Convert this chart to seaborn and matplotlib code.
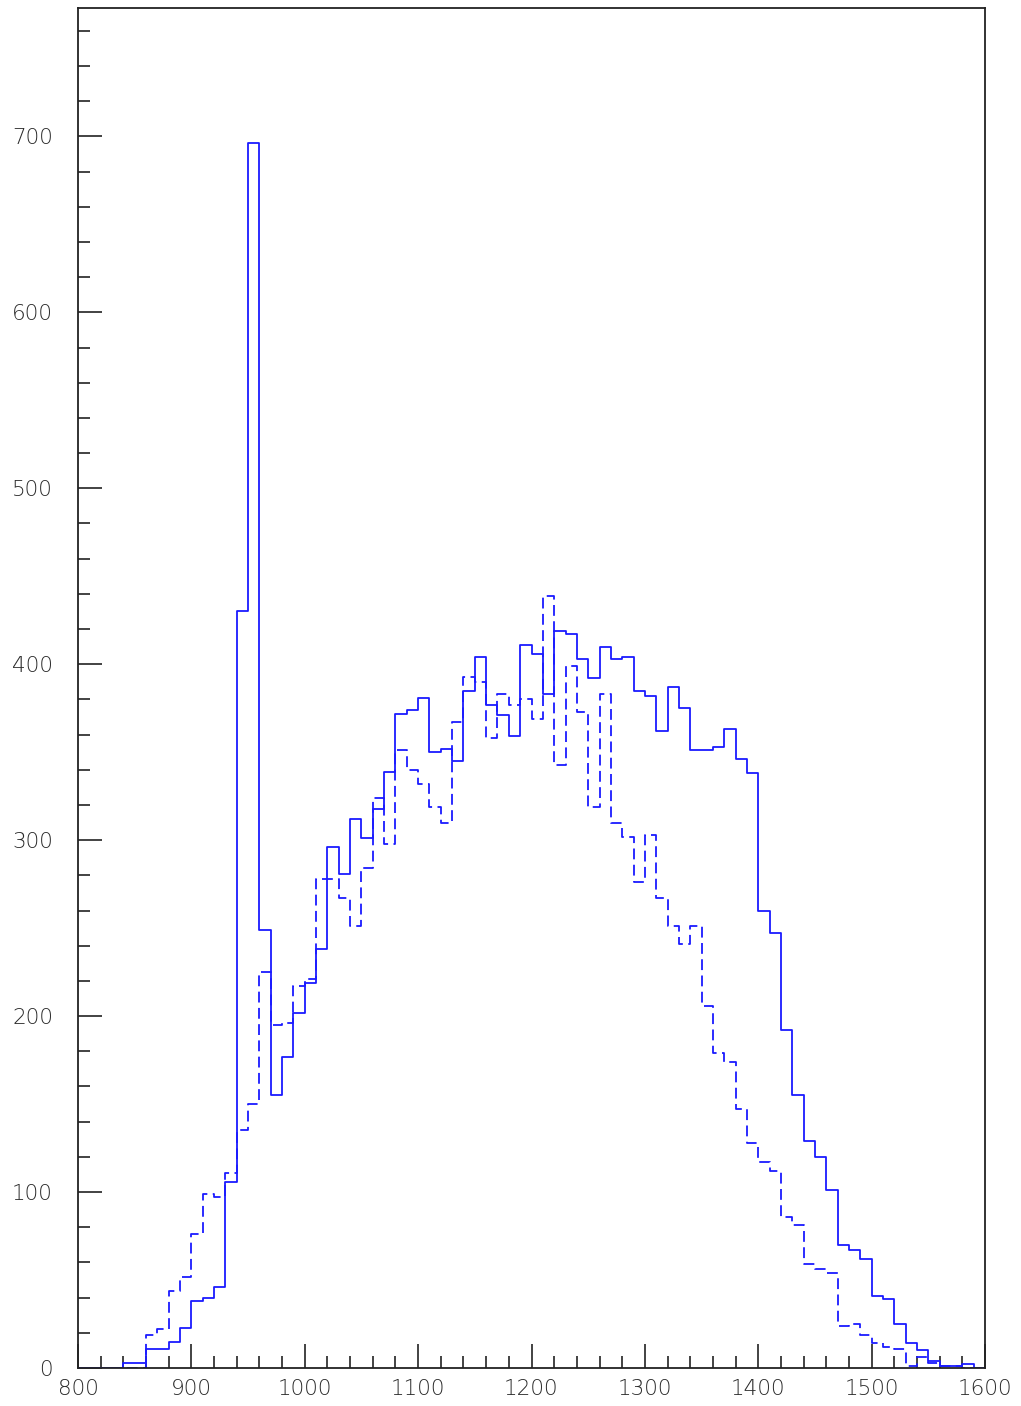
import numpy as np
import pandas as pd
import matplotlib
matplotlib.use("Agg")
import matplotlib.pyplot as plt
import seaborn as sns
from matplotlib.ticker import MultipleLocator

# ---- data (bin width 10, from 800 to 1600) ----
bin_edges = list(range(800, 1601, 10))

solid_counts = [
    0, 0, 0, 0,
    3, 3,
    11, 11, 15, 23,
    38, 40, 46, 106,
    430, 696, 249, 155,
    177, 202, 219, 238,
    296, 281, 312, 301,
    318, 339, 372, 374,
    381, 350, 352, 345,
    385, 404, 377, 371,
    359, 411, 406, 383,
    419, 417, 403, 392,
    410, 403, 404, 385,
    382, 362, 387, 375,
    351, 351, 353, 363,
    346, 338, 260, 247,
    192, 155, 129, 120,
    101, 70, 67, 62,
    41, 39, 25, 14,
    10, 4, 1, 1,
    2, 0,
]

dashed_counts = [
    0, 0, 0, 0, 0, 0,
    19, 22, 44, 52,
    76, 99, 97, 111,
    135, 150, 225, 195,
    196, 217, 221, 278,
    278, 267, 251, 284,
    324, 298, 351, 340,
    332, 319, 310, 367,
    393, 390, 358, 383,
    377, 380, 369, 439,
    343, 399, 373, 319,
    383, 310, 302, 276,
    303, 267, 251, 241,
    251, 206, 179, 174,
    147, 128, 117, 112,
    86, 81, 59, 56,
    54, 24, 25, 19,
    14, 12, 11, 1,
    6, 3, 1, 1,
    0, 0,
]

x_major = list(range(800, 1601, 100))
y_major = list(range(0, 701, 100))

# ---- build data frame ----
edges = np.array(bin_edges, dtype=float)
centers = (edges[:-1] + edges[1:]) / 2
df_solid = pd.DataFrame({"x": centers, "w": solid_counts})
df_dashed = pd.DataFrame({"x": centers, "w": dashed_counts})

sns.set_style("white")
plt.rcParams["font.family"] = ["DejaVu Sans"]

fig = plt.figure(figsize=(10.21, 14.06), dpi=100)
ax = fig.add_axes([78 / 1021, 1 - 1368 / 1406, (985 - 78) / 1021, (1368 - 8) / 1406])

blue = "#1a1aff"
sns.histplot(data=df_dashed, x="x", weights="w", bins=list(bin_edges), element="step",
             fill=False, color=blue, linewidth=1.3, linestyle=(0, (6, 3)), ax=ax)
sns.histplot(data=df_solid, x="x", weights="w", bins=list(bin_edges), element="step",
             fill=False, color=blue, linewidth=1.3, ax=ax)

ax.set_xlim(800, 1600)
ax.set_ylim(0, 773)
ax.set_xlabel("")
ax.set_ylabel("")

ax.set_xticks(x_major)
ax.set_yticks(y_major)
ax.xaxis.set_minor_locator(MultipleLocator(20))
ax.yaxis.set_minor_locator(MultipleLocator(20))
ax.tick_params(axis="both", which="major", direction="in", length=17, width=1.2,
               color="#222222", labelsize=15.5, labelcolor="#2a2a2a")
ax.tick_params(axis="both", which="minor", direction="in", length=8.5, width=1.2,
               color="#222222")
ax.tick_params(axis="x", which="both", top=False, bottom=True, pad=8)
ax.tick_params(axis="y", which="both", right=False, left=True, pad=18)
for lab in ax.get_xticklabels() + ax.get_yticklabels():
    lab.set_fontweight("light")

for side in ["left", "bottom", "right", "top"]:
    ax.spines[side].set_visible(True)
    ax.spines[side].set_color("#222222")
    ax.spines[side].set_linewidth(1.3)

fig.savefig("out.png", dpi=100)
